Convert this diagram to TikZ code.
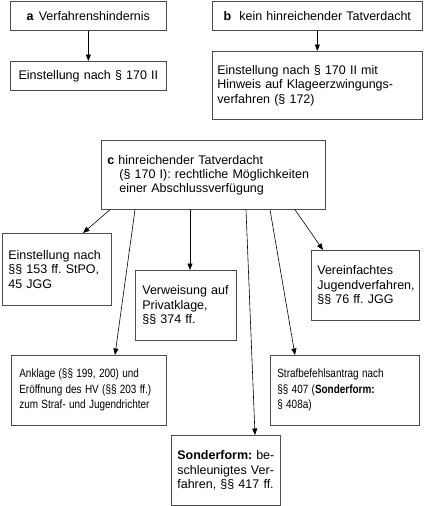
\documentclass[tikz,border=0pt]{standalone}
\usepackage{fontspec}
\usepackage{graphicx}
\setmainfont{Liberation Sans}
\usetikzlibrary{arrows.meta}
\frenchspacing
\newcommand{\nrw}[1]{\scalebox{0.83}[1]{#1}}
\begin{document}
\begin{tikzpicture}[x=1pt,y=-1pt,
  box/.style={draw=black!70, line width=0.7pt, rectangle, inner ysep=0pt,
    font=\fontsize{12.5}{14.5}\selectfont, anchor=north west},
  narrow/.style={font=\fontsize{12}{15.5}\selectfont},
  arr/.style={-{Triangle[length=6.5pt,width=5pt]}, line width=0.6pt, black}]
\useasboundingbox (0,0) rectangle (431,506);
% top row
\node[box, align=center, inner xsep=6pt, text width=144pt, minimum height=29pt] (a) at (10,1)
  {\textbf{a}\hspace{5pt}Verfahrenshindernis};
\node[box, align=center, inner xsep=6pt, text width=144pt, minimum height=29pt] (a2) at (10,61)
  {Einstellung nach § 170 II};
\node[box, align=center, inner xsep=6pt, text width=198pt, minimum height=29pt] (b) at (212,1)
  {\textbf{b}\hspace{8pt}kein hinreichender Tatverdacht};
\node[box, align=left, inner xsep=5pt, text width=200pt, minimum height=68pt] (b2) at (212,51)
  {Einstellung nach § 170 II mit\\Hinweis auf Klageerzwingungs-\\verfahren (§ 172)};
% c
\node[box, align=left, inner xsep=6pt, text width=212pt, minimum height=69pt,
      font=\fontsize{12.5}{14}\selectfont] (c) at (101,140)
  {\textbf{c} hinreichender Tatverdacht\\\hspace*{12pt}(§ 170 I): rechtliche Möglichkeiten\\\hspace*{12pt}einer Abschlussverfügung};
% options
\node[box, align=left, inner xsep=6pt, text width=97pt, minimum height=72pt] (e1) at (2,233)
  {Einstellung nach\\§§ 153 ff. StPO,\\45 JGG};
\node[box, align=left, inner xsep=7pt, text width=87pt, minimum height=70pt] (vw) at (135,270)
  {Verweisung auf\\Privatklage,\\§§ 374 ff.};
\node[box, align=left, inner xsep=6pt, text width=96pt, minimum height=70pt] (vj) at (311,250)
  {Vereinfachtes\\Jugendverfahren,\\§§ 76 ff. JGG};
\node[box, narrow, align=left, inner xsep=8pt, text width=139pt, minimum height=70pt] (ak) at (11,355)
  {\nrw{Anklage (§§ 199, 200) und}\\\nrw{Eröffnung des HV (§§ 203 ff.)}\\\nrw{zum Straf- und Jugendrichter}};
\node[box, narrow, align=left, inner xsep=7pt, text width=135pt, minimum height=70pt] (sb) at (270,355)
  {\nrw{Strafbefehlsantrag nach}\\\nrw{§§ 407 (\textbf{Sonderform:}}\\\nrw{§ 408a)}};
\node[box, align=left, inner xsep=6pt, text width=97pt, minimum height=70pt] (sf) at (171,435)
  {\textbf{Sonderform:}\hfill be-\\schleunigtes Ver-\\fahren, §§ 417 ff.};
% arrows
\draw[arr] (a.south) -- (a2.north);
\draw[arr] (b.south) -- (b2.north);
\draw[arr] ([xshift=9pt]c.south west) -- ([xshift=81pt]e1.north west);
\draw[arr] ([xshift=89pt]c.south west) -- ([xshift=55pt]vw.north west);
\draw[arr] ([xshift=34pt]c.south west) -- ([xshift=104pt]ak.north west);
\draw[arr] ([xshift=145pt]c.south west) -- ([xshift=84pt]sf.north west);
\draw[arr] ([xshift=169pt]c.south west) -- ([xshift=25pt]sb.north west);
\draw[arr] ([xshift=194pt]c.south west) -- ([xshift=12pt]vj.north west);
\end{tikzpicture}
\end{document}
